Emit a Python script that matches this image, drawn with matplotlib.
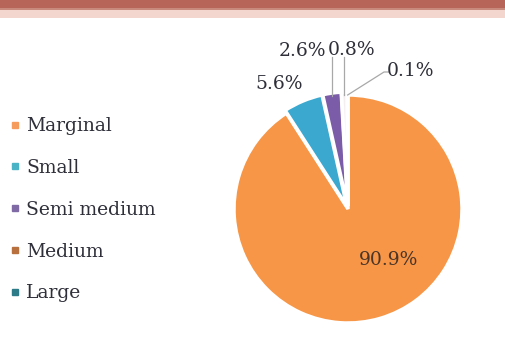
import numpy as np
import matplotlib.pyplot as plt
from matplotlib.lines import Line2D
from matplotlib.patches import Rectangle

# farm size classes and their share of holdings (%)
classes = ["Marginal", "Small", "Semi medium", "Medium", "Large"]
shares = [90.9, 5.6, 2.6, 0.8, 0.1]
pie_colors = ["#F79646", "#3AA8CF", "#7A5CA8", "#F4EEF0", "#E8F0F4"]
legend_colors = ["#F59C5C", "#4BB3C6", "#7F6AA6", "#B8703E", "#2D7B88"]

W, H = 505, 341
fig = plt.figure(figsize=(W / 100, H / 100), dpi=100)
ax = fig.add_axes([0, 0, 1, 1])
ax.set_xlim(0, W)
ax.set_ylim(0, H)
ax.set_aspect("equal")
ax.axis("off")

# header strip
ax.add_patch(Rectangle((0, H - 8), W, 8, color="#B66558", lw=0))
ax.add_patch(Rectangle((0, H - 10), W, 2, color="#C98A7E", lw=0))
ax.add_patch(Rectangle((0, H - 18), W, 8, color="#F3D6CE", lw=0))

cx, cy, r = 348, H - 209, 114
wedges, _ = ax.pie(shares, colors=pie_colors, startangle=90, counterclock=False,
                   center=(cx, cy), radius=r, explode=[0, 3, 3, 3, 3],
                   wedgeprops=dict(edgecolor="white", linewidth=2.5), frame=True)
ax.set_xlim(0, W)
ax.set_ylim(0, H)
ax.axis("off")

font = "DejaVu Serif"
txt = "#2f2f3a"

# percentage labels (x, y from the top)
label_pos = [(389, 260), (279, 84), (302, 51), (352, 50), (411, 71)]
for i, (w, v) in enumerate(zip(wedges, shares)):
    lx, ly = label_pos[i]
    ax.text(lx, H - ly, f"{v}%", ha="center", va="center",
            fontsize=13.5, family=font,
            color="#4a3528" if i == 0 else txt)
    mid = np.deg2rad((w.theta1 + w.theta2) / 2)
    ex, ey = cx + r * np.cos(mid), cy + r * np.sin(mid)
    if i in (2, 3):
        ax.plot([ex, ex], [ey, H - 57], color="#a8a8a8", lw=0.9)
    elif i == 4:
        ax.plot([ex, lx - 27, lx - 22], [ey, H - 72, H - 72], color="#a8a8a8", lw=0.9)

handles = [Line2D([], [], marker="s", ls="none", markersize=5,
                  markerfacecolor=c, markeredgecolor=c) for c in legend_colors]
leg = ax.legend(handles, classes, loc="upper left",
                bbox_to_anchor=(-0.006, 1 - 104 / H), frameon=False,
                prop=dict(family=font, size=13.5), labelcolor=txt,
                handlelength=0.5, handletextpad=0.35, labelspacing=1.27,
                borderaxespad=0.3)

fig.savefig("out.png", dpi=100)
